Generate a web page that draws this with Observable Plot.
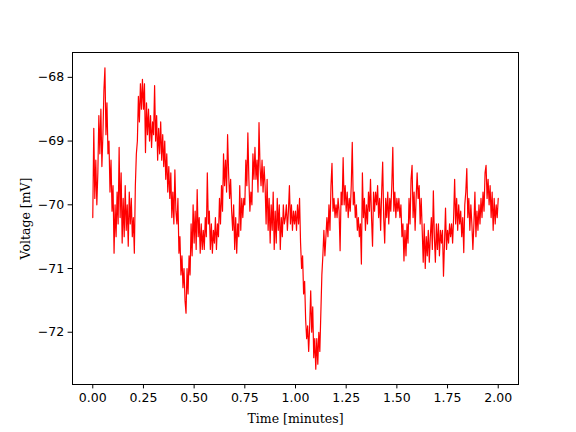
<!DOCTYPE html>
<html>
<head>
<meta charset="utf-8">
<script src="https://cdn.jsdelivr.net/npm/d3@7"></script>
<script src="https://cdn.jsdelivr.net/npm/@observablehq/plot@0.6"></script>
<style>
  html, body { margin: 0; padding: 0; background: white; }
</style>
</head>
<body>
<div id="chart"></div>
<script>
// Sampling step of the recording, in minutes
const sampleStep = 0.005;

// Membrane voltage [mV], one value per sample
const voltage = [
  -70.2, -68.8, -69.9, -69.3, -70.0, -69.5, -68.6, -69.2, -68.5, -69.4,
  -68.9, -68.2, -67.85, -68.9, -68.4, -69.2, -69.0, -69.8, -69.3, -70.1,
  -69.7, -70.76, -70.0, -70.5, -69.8, -70.3, -69.1, -70.2, -69.5, -70.6,
  -69.9, -70.5, -69.7, -70.4, -70.0, -70.65, -69.8, -70.3, -69.9, -70.5,
  -70.2, -70.76, -69.7, -69.2, -69.0, -68.3, -68.7, -68.1, -68.5, -68.03,
  -68.5, -68.1, -69.18, -68.4, -68.9, -68.5, -69.0, -68.6, -69.1, -68.7,
  -68.9, -68.13, -69.0, -68.6, -69.3, -68.8, -69.2, -68.7, -69.3, -68.9,
  -69.4, -69.0, -69.6, -69.2, -69.8, -69.4, -69.9, -69.5, -70.2, -69.8,
  -70.3, -69.45, -70.1, -70.3, -69.9, -70.76, -70.5, -71.1, -70.8, -71.3,
  -71.0, -71.5, -71.7, -71.0, -71.4, -70.8, -71.1, -70.3, -70.8, -70.0,
  -70.6, -70.1, -70.7, -69.76, -70.5, -70.2, -70.76, -70.3, -70.7, -70.4,
  -70.7, -70.2, -70.5, -69.5, -70.3, -70.1, -70.7, -70.3, -70.76, -70.4,
  -70.6, -70.2, -70.7, -70.3, -70.5, -69.9, -70.3, -69.7, -70.1, -69.2,
  -69.7, -69.3, -69.8, -68.9, -69.5, -69.9, -69.6, -70.1, -70.4, -70.0,
  -70.7, -70.2, -70.76, -70.3, -70.5, -69.7, -70.4, -69.9, -70.2, -69.9,
  -70.0, -69.3, -69.7, -68.87, -69.6, -70.1, -69.8, -70.0, -69.2, -69.6,
  -69.1, -69.6, -69.3, -69.8, -68.71, -69.4, -69.7, -69.3, -69.8, -69.4,
  -69.7, -70.3, -69.6, -70.4, -69.9, -70.6, -70.0, -70.4, -69.8, -70.7,
  -70.1, -70.6, -69.9, -70.4, -70.0, -70.7, -70.2, -70.5, -70.0, -70.3,
  -70.2, -70.0, -70.4, -70.1, -69.7, -70.3, -70.0, -70.4, -70.1, -70.3,
  -70.1, -70.4, -70.0, -70.3, -69.9, -70.6, -71.0, -70.8, -71.4, -71.2,
  -71.8, -72.1, -71.9, -72.3, -71.9, -71.35, -72.0, -71.6, -72.4, -72.1,
  -72.58, -72.1, -72.5, -72.0, -72.3, -71.7, -71.1, -70.8, -70.4, -70.8,
  -70.5, -70.2, -70.5, -70.0, -70.4, -69.7, -69.35, -70.1, -69.9, -70.2,
  -70.0, -70.2, -69.9, -70.1, -70.72, -69.8, -70.0, -69.26, -70.0, -69.7,
  -70.1, -69.8, -70.2, -69.9, -70.1, -69.7, -69.02, -70.0, -69.8, -70.2,
  -70.0, -70.4, -70.2, -70.5, -70.3, -70.93, -69.5, -70.2, -69.9, -70.4,
  -70.0, -70.3, -69.8, -70.1, -69.6, -70.2, -70.65, -69.8, -70.1, -69.8,
  -70.0, -69.7, -70.2, -69.9, -70.4, -69.8, -69.33, -70.2, -70.6, -69.9,
  -70.2, -69.8, -70.3, -69.9, -70.1, -69.7, -69.1, -70.1, -69.8, -70.2,
  -69.9, -70.1, -69.9, -70.2, -70.0, -70.5, -70.3, -70.88, -70.4, -70.8,
  -70.3, -70.6, -69.9, -70.3, -69.6, -69.38, -70.2, -69.8, -70.4, -69.9,
  -69.5, -69.9, -69.7, -70.3, -69.9, -70.4, -70.9, -70.3, -71.0, -70.5,
  -70.8, -70.4, -70.9, -70.5, -70.2, -70.7, -69.78, -70.5, -70.9, -70.3,
  -70.7, -70.3, -70.8, -70.4, -70.6, -70.4, -71.12, -70.6, -70.05, -70.7,
  -70.4, -70.6, -70.3, -70.5, -70.3, -70.6, -70.2, -69.6, -70.3, -69.9,
  -70.4, -70.0, -70.3, -70.1, -70.5, -70.2, -70.75, -70.0, -69.8, -69.43,
  -70.2, -69.9, -70.4, -70.0, -70.3, -70.7, -70.3, -69.8, -70.5, -70.1,
  -70.4, -70.0, -70.3, -69.9, -70.2, -69.8, -70.1, -69.5, -69.38, -69.9,
  -69.6, -70.0, -69.7, -70.2, -69.8, -70.4, -69.9, -70.3, -70.0, -70.2,
  -69.9
];

const xTicks = [0, 0.25, 0.5, 0.75, 1.0, 1.25, 1.5, 1.75, 2.0];
const yTicks = [-72, -71, -70, -69, -68];
const xLabel = "Time [minutes]";
const yLabel = "Voltage [mV]";

const rows = voltage.map((v, i) => ({time: i * sampleStep, voltage: v}));

const chart = Plot.plot({
  width: 576,
  height: 432,
  marginLeft: 72,
  marginRight: 58,
  marginTop: 52,
  marginBottom: 48,
  style: {fontFamily: "DejaVu Sans", fontSize: "12.5px", background: "white", color: "black"},
  x: {domain: [-0.1, 2.1]},
  y: {domain: [-72.82, -67.61]},
  marks: [
    Plot.lineY(rows, {x: "time", y: "voltage", stroke: "#ff0000", strokeWidth: 1.2}),
    Plot.frame({stroke: "black", strokeWidth: 1}),
    Plot.axisX({ticks: xTicks, tickFormat: d3.format(".2f"), tickSize: 4.4, tickPadding: 4, label: null, fontSize: 12.5}),
    Plot.axisY({ticks: yTicks, tickFormat: d3.format("d"), tickSize: 4.4, tickPadding: 4, label: null, fontSize: 12.5}),
    Plot.text([xLabel], {frameAnchor: "bottom", dy: 34, text: d => d, fontFamily: "DejaVu Serif", fontSize: 12.5, lineAnchor: "middle", textAnchor: "middle", fill: "black"}),
    Plot.text([yLabel], {frameAnchor: "left", dx: -47, text: d => d, rotate: -90, fontFamily: "DejaVu Serif", fontSize: 12.5, lineAnchor: "middle", textAnchor: "middle", fill: "black"})
  ]
});

document.getElementById("chart").appendChild(chart);
</script>
</body>
</html>
